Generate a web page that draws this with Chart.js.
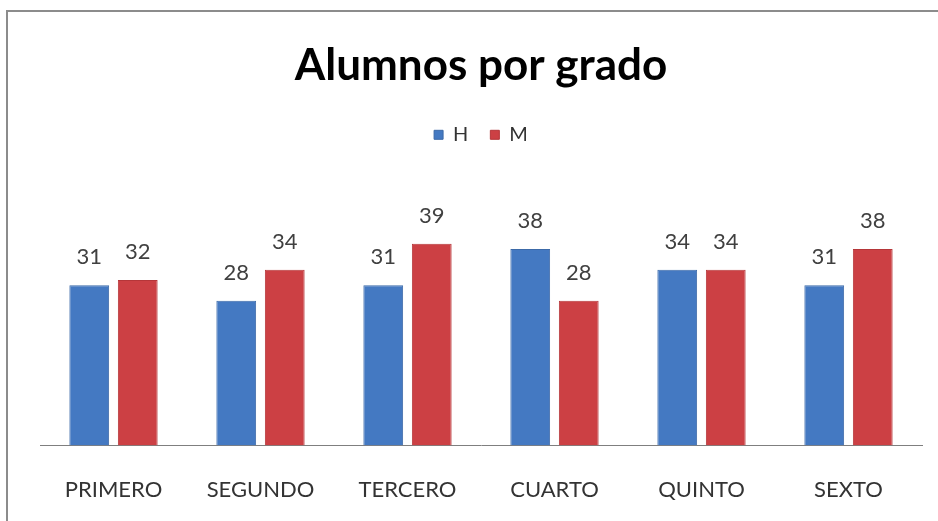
<!DOCTYPE html>
<html>
<head>
<meta charset="utf-8">
<script src="https://cdn.jsdelivr.net/npm/chart.js@4/dist/chart.umd.min.js"></script>
<style>
	html, body { margin: 0; padding: 0; background: #fff; overflow: hidden; }
	#frame { position: absolute; left: 6px; top: 10px; width: 1000px; height: 600px; border: 2px solid #8c8c8c; }
	#wrap { position: absolute; left: 0; top: 0; width: 938px; height: 521px; }
</style>
</head>
<body>
<div id="frame"></div>
<div id="wrap"><canvas id="grados"></canvas></div>
<script>
const grados = ["PRIMERO", "SEGUNDO", "TERCERO", "CUARTO", "QUINTO", "SEXTO"];
const hombres = [31, 28, 31, 38, 34, 31];
const mujeres = [32, 34, 39, 28, 34, 38];

const FONT = "Lato, 'Open Sans', sans-serif";

// draw the value above each bar
const valueLabels = {
	id: "valueLabels",
	afterDatasetsDraw(chart) {
		const c = chart.ctx;
		c.save();
		c.font = "22px " + FONT;
		c.fillStyle = "#404040";
		c.textAlign = "center";
		c.textBaseline = "bottom";
		chart.data.datasets.forEach(function (ds, i) {
			chart.getDatasetMeta(i).data.forEach(function (bar, j) {
				c.fillText(ds.data[j], bar.x, bar.y - 17);
			});
		});
		c.restore();
	},
};

new Chart(document.getElementById("grados"), {
	type: "bar",
	data: {
		labels: grados,
		datasets: [
			{ label: "H", data: hombres, backgroundColor: "#4479c2", borderColor: "#3c6aa8", borderWidth: 1 },
			{ label: "M", data: mujeres, backgroundColor: "#cc4044", borderColor: "#b53639", borderWidth: 1 },
		],
	},
	options: {
		responsive: true,
		maintainAspectRatio: false,
		animation: false,
		layout: { padding: { left: 40, right: 16, bottom: -13, top: 0 } },
		datasets: {
			bar: { categoryPercentage: 0.66, barPercentage: 0.82 },
		},
		plugins: {
			title: {
				display: true,
				text: "Alumnos por grado",
				color: "#000",
				font: { family: FONT, size: 44, weight: "bold" },
				padding: { top: 39, bottom: 11 },
			},
			legend: {
				display: true,
				labels: {
					color: "#333",
					font: { family: FONT, size: 20 },
					boxWidth: 9,
					boxHeight: 9,
					padding: 22,
				},
			},
			tooltip: { enabled: false },
		},
		scales: {
			x: {
				grid: { display: false, drawTicks: false },
				border: { display: true, color: "#7f7f7f", width: 1 },
				ticks: { color: "#333", font: { family: FONT, size: 22 }, padding: 31 },
			},
			y: {
				display: false,
				min: 0,
				max: 56.2,
			},
		},
	},
	plugins: [valueLabels],
});
</script>
</body>
</html>
